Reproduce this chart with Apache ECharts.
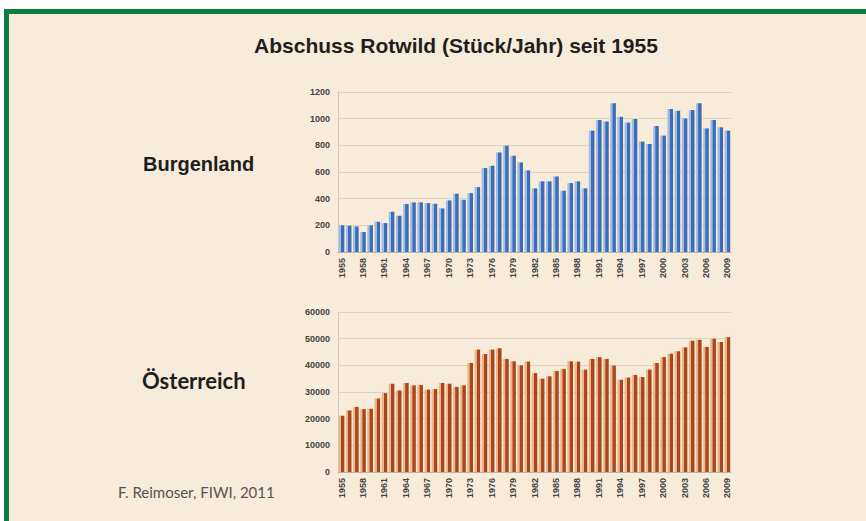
<!DOCTYPE html>
<html>
<head>
<meta charset="UTF-8">
<title>Abschuss Rotwild</title>
<script src="https://cdn.jsdelivr.net/npm/echarts@6/dist/echarts.min.js"></script>
<style>
  body { margin: 0; background: #ffffff; }
  #frame { position: absolute; left: 4px; top: 9px; width: 862px; height: 512px;
           border-top: 5px solid #0c7d40; border-left: 5px solid #0c7d40; background: #f7ebd9; box-sizing: border-box; }
  #chart { position: absolute; left: 0; top: 0; width: 866px; height: 521px; }
</style>
</head>
<body>
<div id="frame"></div>
<div id="chart"></div>
<script>
// Jahre 1955 - 2009
var years = [];
for (var y = 1955; y <= 2009; y++) { years.push(String(y)); }

// Abschuss Burgenland (Stück/Jahr)
var burgenland = [
  200, 197, 192, 150, 200, 227, 217, 302, 272, 360,
  372, 372, 367, 362, 327, 387, 437, 392, 442, 487,
  630, 647, 747, 797, 722, 672, 612, 477, 530, 530,
  567, 460, 517, 530, 477, 910, 990, 978, 1115, 1015,
  972, 997, 828, 810, 945, 873, 1072, 1060, 1002, 1065,
  1115, 927, 990, 935, 910
];

// Abschuss Österreich (Stück/Jahr)
var oesterreich = [
  21100, 23100, 24400, 23600, 23750, 27600, 29600, 33100, 30600, 33400,
  32500, 32600, 30900, 31100, 33400, 33100, 31900, 32500, 40900, 45900,
  44250, 45900, 46400, 42400, 41500, 40000, 41400, 37100, 35000, 35900,
  37900, 38600, 41500, 41400, 38400, 42400, 43100, 42400, 39900, 34600,
  35400, 36400, 35600, 38400, 40900, 43100, 44400, 45250, 46750, 49250,
  49600, 46900, 50000, 48750, 50500
];

var titleText = 'Abschuss Rotwild (Stück/Jahr) seit 1955';
var sourceText = 'F. Reimoser, FIWI, 2011';

function barColor(light, dark) {
  return new echarts.graphic.LinearGradient(0, 0, 1, 0, [
    { offset: 0, color: light },
    { offset: 0.35, color: light },
    { offset: 0.45, color: dark },
    { offset: 1, color: dark }
  ]);
}

var axisLabelStyle = { fontSize: 9, fontWeight: 'bold', color: '#444', fontFamily: 'Liberation Sans' };

function xAxisFor(idx) {
  return {
    type: 'category', gridIndex: idx, data: years,
    axisLine: { lineStyle: { color: '#b9b2a6' } },
    axisTick: { show: false },
    axisLabel: Object.assign({ rotate: 90, interval: 2, margin: 6 }, axisLabelStyle)
  };
}

function yAxisFor(idx, max, step) {
  return {
    type: 'value', gridIndex: idx, min: 0, max: max, interval: step,
    axisLine: { show: true, lineStyle: { color: '#cfc8bc' } },
    axisTick: { show: false },
    splitLine: { lineStyle: { color: '#dcd3c4' } },
    axisLabel: Object.assign({ margin: 8, formatter: function (v) { return String(v); } }, axisLabelStyle)
  };
}

var chart = echarts.init(document.getElementById('chart'), null, { renderer: 'svg' });
chart.setOption({
  backgroundColor: 'transparent',
  animation: false,
  grid: [
    { left: 338, top: 92, width: 393, height: 160 },
    { left: 338, top: 312, width: 393, height: 160 }
  ],
  xAxis: [xAxisFor(0), xAxisFor(1)],
  yAxis: [yAxisFor(0, 1200, 200), yAxisFor(1, 60000, 10000)],
  series: [
    {
      name: 'Burgenland', type: 'bar', xAxisIndex: 0, yAxisIndex: 0,
      data: burgenland, barCategoryGap: '22%',
      itemStyle: { color: barColor('#9dbde8', '#3f6db5') }
    },
    {
      name: 'Österreich', type: 'bar', xAxisIndex: 1, yAxisIndex: 1,
      data: oesterreich, barCategoryGap: '22%',
      itemStyle: { color: barColor('#f3b184', '#a6481f') }
    }
  ],
  graphic: [
    { type: 'text', x: 456, y: 45, style: { text: titleText, textAlign: 'center', textVerticalAlign: 'middle',
        font: 'bold 21px "Liberation Sans"', fill: '#1e1e1e' } },
    { type: 'text', x: 143, y: 164, style: { text: 'Burgenland', textAlign: 'left', textVerticalAlign: 'middle',
        font: 'bold 20px "Liberation Sans"', fill: '#1e1e1e' } },
    { type: 'text', x: 142, y: 380, style: { text: 'Österreich', textAlign: 'left', textVerticalAlign: 'middle',
        font: 'bold 22px Lato', fill: '#1e1e1e' } },
    { type: 'text', x: 118, y: 492, style: { text: sourceText, textAlign: 'left', textVerticalAlign: 'middle',
        font: '15px Lato', fill: '#555555' } }
  ]
});
</script>
</body>
</html>
